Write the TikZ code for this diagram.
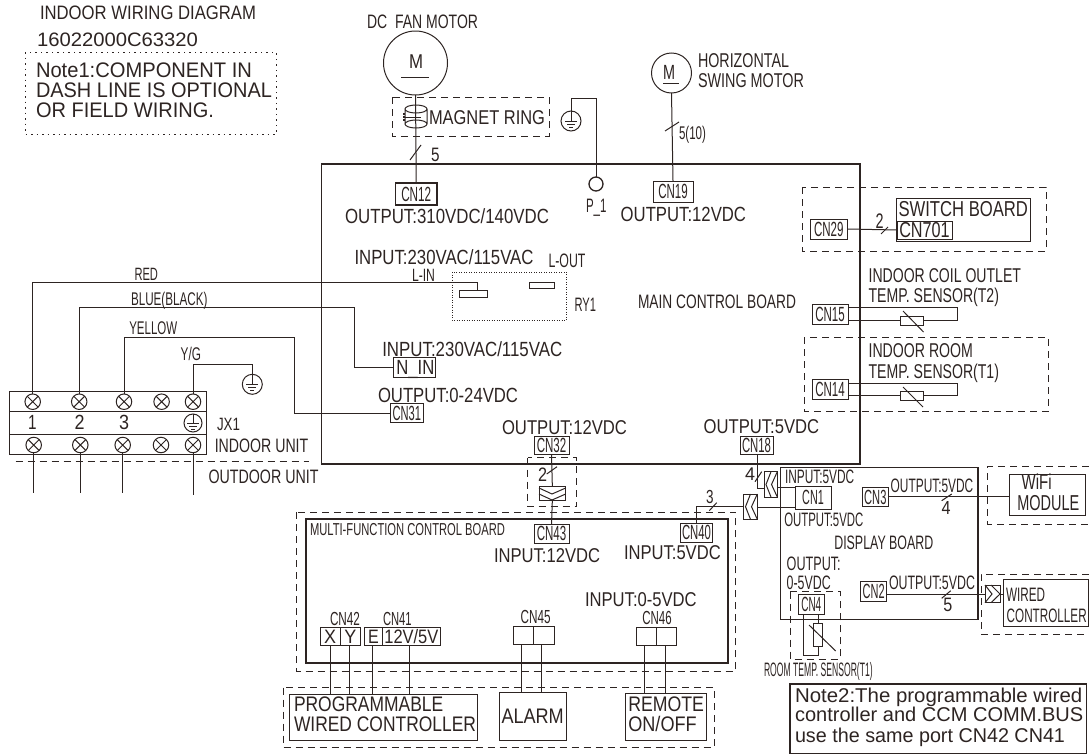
\documentclass[tikz,border=0pt]{standalone}
\usepackage{fontspec}
\usepackage{graphicx}
\setmainfont{Liberation Sans}
\definecolor{ink}{RGB}{45,36,34}
\newcommand\fitt[3]{{\pgfmathsetmacro\fsz{#1*1.08}\fontsize{\fsz}{\fsz}\selectfont\resizebox{#2pt}{\height}{#3}}}
\newcommand\lbl[6]{\node[txt] (#1) at (#2,#3) {\fitt{#4}{#5}{#6}};}
\newcommand\bx[7][]{\node[box,#1,minimum width={(#5-#3)*1pt},minimum height={(#6-#4)*1pt}] (#2) at ({(#3+#5)/2},{(#4+#6)/2}) {#7};}
\newcommand\screw[3]{\node[screwc] (#1) at (#2,#3) {}; \draw[wire] (#1.45)--(#1.225) (#1.135)--(#1.315);}
\newcommand\gnd[4]{\node[gndc,minimum size=#4pt] (#1) at (#2,#3) {};
  \draw[wire] (#1.north)--(#1.center) ++(-6,0) -- ++(12,0) ++(-10,3) -- ++(8,0) ++(-6,3) -- ++(4,0);}
\newcommand\wv[3]{\draw[wire] (#1,0 |- #2) -- (#1,0 |- #3);}
\tikzset{
  txt/.style={anchor=base west,inner sep=0pt,outer sep=0pt,text=ink},
  box/.style={draw=ink,line width=1pt,inner sep=0pt,outer sep=0pt,text=ink,rectangle},
  thickbox/.style={line width=1.4pt},
  wire/.style={draw=ink,line width=1pt},
  dash box/.style={draw=ink,line width=1pt,dash pattern=on 7pt off 5pt},
  screwc/.style={circle,draw=ink,line width=1pt,minimum size=15.5pt,inner sep=0pt,outer sep=0pt},
  gndc/.style={circle,draw=ink,line width=1pt,inner sep=0pt,outer sep=0pt},
}
\begin{document}
\begin{tikzpicture}[x=1pt,y=-1pt]
\useasboundingbox (0,0) rectangle (1089,755);
% ---- header
\lbl{title}{40}{19}{18}{216}{INDOOR WIRING DIAGRAM}
\lbl{partno}{37}{46}{18}{161}{16022000C63320}
\draw[draw=ink,line width=1pt,dash pattern=on 1.5pt off 4pt] (25,52) rectangle (276,134);
\lbl{noteA}{36}{77}{19.5}{216}{Note1:COMPONENT IN}
\lbl{noteB}{36}{97}{19.5}{236}{DASH LINE IS OPTIONAL}
\lbl{noteC}{36}{117}{19.5}{178}{OR FIELD WIRING.}
% ---- fan motor
\lbl{fanlbl}{367}{28}{18}{111}{DC\ \ FAN MOTOR}
\node[circle,draw=ink,line width=1pt,minimum size=64pt,inner sep=0pt,outer sep=0pt] (fan) at (415.5,63) {};
\lbl{fanM}{409}{68}{18.5}{14}{M}
\draw[wire] (401,77) -- (428.5,77);
\draw[dash box] (392,97) rectangle (549,136);
\lbl{ringlbl}{429}{124}{18.5}{116}{MAGNET RING}
\draw[wire] (416,109) ellipse (11 and 4) (416,124) ellipse (11 and 4)
  (405,109) -- (405,124) (427,109) -- (427,124);
\draw[wire,dash pattern=on 1.5pt off 1.5pt,line width=1.4pt] (404,113) -- (404,121);
\draw[wire] (404,117) -- (421,117);
\bx[thickbox]{cn12}{395.5}{183}{437}{205}{\fitt{19}{30}{CN12}}
\draw[wire] (fan.south) -- (cn12.north);
\draw[wire] (410,160) -- (421,145);
\lbl{n5a}{431}{161}{18}{8.5}{5}
% ---- main board
\bx[line width=1.3pt]{main}{321.5}{164}{860}{464}{}
\lbl{out310}{345}{223}{19}{204}{OUTPUT:310VDC/140VDC}
\lbl{in230a}{354.5}{264}{19}{179}{INPUT:230VAC/115VAC}
\lbl{lin}{412}{281}{16.5}{23}{L-IN}
\lbl{lout}{548.5}{267}{18}{37}{L-OUT}
\draw[draw=ink,line width=1pt,dash pattern=on 1pt off 1.5pt] (452,272) rectangle (566.5,320);
\bx{ctA}{459.5}{290.7}{487.7}{297.7}{}
\bx{ctB}{529}{282}{554.5}{288}{}
\lbl{ry}{574.5}{311}{18}{21.5}{RY1}
\lbl{mcb}{638}{308}{18}{158}{MAIN CONTROL BOARD}
\lbl{in230b}{382.3}{356}{19}{180}{INPUT:230VAC/115VAC}
\bx{nin}{393.5}{357.7}{435.5}{377.3}{}
\lbl{nint}{396.3}{374.5}{19}{38}{N\_IN}
\lbl{out24}{378}{402.7}{19}{140}{OUTPUT:0-24VDC}
\bx{cn31}{390.3}{403.3}{423.3}{422.7}{\fitt{19}{28.5}{CN31}}
\lbl{out12b}{502}{434}{18.5}{125}{OUTPUT:12VDC}
\bx{cn32}{534}{436}{569}{454}{\fitt{19}{29.5}{CN32}}
\lbl{out5a}{703.7}{433}{18.5}{115.5}{OUTPUT:5VDC}
\bx{cn18}{740}{436.7}{773}{454}{\fitt{19}{29}{CN18}}
% ---- swing motor
\node[circle,draw=ink,line width=1pt,minimum size=40pt,inner sep=0pt,outer sep=0pt] (swing) at (671.5,73) {};
\lbl{swM}{663}{79}{19}{12}{M}
\draw[wire] (663,83) -- (679,83);
\lbl{swA}{698}{67}{18.5}{91}{HORIZONTAL}
\lbl{swB}{698}{87}{18.5}{106}{SWING MOTOR}
\bx{cn19}{653}{181}{693}{202}{\fitt{19}{29.5}{CN19}}
\draw[wire] (swing.south) -- (cn19.north);
\draw[wire] (665,131) -- (679,122);
\lbl{n510}{679}{139}{17}{27}{5(10)}
\lbl{out12a}{620.7}{221}{19}{125.3}{OUTPUT:12VDC}
% ---- ground + P_1
\gnd{gndA}{571}{121}{20}
\node[circle,draw=ink,line width=1.3pt,minimum size=14pt,inner sep=0pt,outer sep=0pt] (p1) at (596,184) {};
\lbl{p1t}{586}{212}{18}{20.5}{P\_1}
\draw[wire] (gndA.north) -- (571,98) -- (596,98) -- (p1.north);
% ---- switch board
\draw[dash box] (802,187) rectangle (1046,251);
\bx{cn29}{810.6}{219}{847}{239}{\fitt{19}{29.5}{CN29}}
\bx{sw}{896}{198}{1030}{241}{}
\lbl{swt}{898.5}{216}{20}{129.5}{SWITCH BOARD}
\bx{cn701}{897}{221}{952}{239}{\fitt{20}{50.5}{CN701}}
\draw[wire] (cn29.east) -- (cn701.west);
\lbl{n2a}{875.5}{228}{19.5}{8}{2}
\draw[wire] (881,234) -- (888,227);
% ---- T2 sensor
\lbl{coilA}{868.6}{282}{18.5}{152.4}{INDOOR COIL OUTLET}
\lbl{coilB}{868.6}{302}{18.5}{130.4}{TEMP. SENSOR(T2)}
\bx{cn15}{812}{304}{848}{324}{\fitt{19}{29.5}{CN15}}
\bx{rT2}{900}{316}{923.5}{325}{}
\draw[wire] (cn15.east |- 0,307) -- (957,307) -- (957,320.5) -- (rT2.east);
\draw[wire] (cn15.east |- rT2.west) -- (rT2.west);
\draw[wire] (903,311) -- (923.5,332);
% ---- T1 sensor
\draw[dash box] (804,337) rectangle (1048.5,411);
\lbl{roomA}{868.6}{357}{18.5}{104.4}{INDOOR ROOM}
\lbl{roomB}{868.6}{378}{18.5}{130.4}{TEMP. SENSOR(T1)}
\bx{cn14}{812}{379}{848}{399}{\fitt{19}{29.5}{CN14}}
\bx{rT1}{900}{391}{923.5}{400}{}
\draw[wire] (cn14.east |- 0,383) -- (957,383) -- (957,395.5) -- (rT1.east);
\draw[wire] (cn14.east |- rT1.west) -- (rT1.west);
\draw[wire] (903,387) -- (923,407);
% ---- terminal block
\draw[wire] (9.4,391) rectangle (206,454.3) (9.4,411.7) -- (206,411.7) (9.4,434) -- (206,434);
\screw{sA}{32.7}{401.7}\screw{sB}{79.2}{401.7}\screw{sC}{124}{401.7}\screw{sD}{161.6}{401.7}\screw{sE}{193}{401.7}
\screw{bA}{33.7}{445}\screw{bB}{80.3}{445}\screw{bC}{122.7}{445}\screw{bD}{161}{445}\screw{bE}{193}{445}
\lbl{tA}{28}{429}{19}{8.5}{1}
\lbl{tB}{74.5}{429}{19}{10}{2}
\lbl{tC}{119}{429}{19}{10}{3}
\gnd{gndB}{193}{423}{18}
\lbl{jx}{217}{430}{16.5}{23}{JX1}
\lbl{indoor}{214.8}{452.7}{18}{93.5}{INDOOR UNIT}
\draw[dash box] (15.6,461.7) -- (308.7,461.7);
\lbl{outdoor}{208.5}{483.3}{18}{110}{OUTDOOR UNIT}
\coordinate (eA) at (33.7,493.3); \coordinate (eB) at (80.3,493.3); \coordinate (eC) at (122.7,493.3); \coordinate (eE) at (193,495);
\draw[wire] (bA.south) -- (eA) (bB.south) -- (eB) (bC.south) -- (eC) (bE.south) -- (eE);
\lbl{red}{134.5}{280}{16.5}{23.5}{RED}
\draw[wire] (sA.north) -- (32.7,282.3) -- (477,282.3) -- (477,0 |- ctA.north);
\lbl{blue}{131}{305.7}{17}{76.5}{BLUE(BLACK)}
\draw[wire] (sB.north) -- (79.2,307.3) -- (354,307.3) -- (354,0 |- nin.west) -- (nin.west);
\lbl{yel}{129.3}{334}{17}{48}{YELLOW}
\draw[wire] (sC.north) -- (124,337.7) -- (294,337.7) -- (294,0 |- cn31.west) -- (cn31.west);
\lbl{yg}{180.7}{360}{17}{20.3}{Y/G}
\gnd{gndC}{252.3}{384.3}{20}
\draw[wire] (sE.north) -- (193,364.3) -- (252.3,364.3) -- (gndC.north);
% ---- CN32 link
\draw[dash box] (527.7,457.7) rectangle (576.7,506.7);
\lbl{n2b}{538}{481}{18}{9}{2}
\draw[wire] (546.7,474) -- (557,466.7);
\bx{cMid}{539}{486.7}{565.7}{500}{}
\draw[wire] (539,488) -- (552,494) -- (565.7,488) (539,494) -- (552,500) -- (565.7,494);
\bx{cn43}{534}{524.7}{569}{543}{\fitt{19}{29.5}{CN43}}
\draw[wire] (cn32.south) -- (cMid.north);
\draw[wire] (cMid.south) -- (cn43.north);
\lbl{in12}{494}{562.3}{18.5}{106}{INPUT:12VDC}
% ---- display links
\bx{cK}{764}{471.7}{777.3}{497}{}
\draw[wire] (771,471.7) -- (766,484.5) -- (771,497) (777.3,471.7) -- (771.5,484.5) -- (777.3,497);
\bx{cL}{743.3}{494}{757.3}{519.3}{}
\draw[wire] (750.5,494) -- (745.5,506.7) -- (750.5,519.3) (757.3,494) -- (751.5,506.7) -- (757.3,519.3);
\lbl{n4a}{745}{480}{17}{10}{4}
\draw[wire] (755,481.7) -- (761.7,471.7);
\draw[wire] (757.5,454) -- (757.5,488) -- (764,488);
\bx{cn40}{680.7}{523.7}{712.3}{542}{\fitt{19}{29}{CN40}}
\draw[wire] (696,0 |- cn40.north) -- (696,506.7) -- (743.3,506.7);
\lbl{n3}{706}{503.3}{17.5}{7.5}{3}
\draw[wire] (709.3,510.7) -- (716.7,502.7);
\lbl{in5}{624}{559}{18.5}{96.7}{INPUT:5VDC}
% ---- multi-function board
\draw[dash box] (296.7,512.3) rectangle (735.7,671.3);
\bx[line width=2pt]{multi}{306}{518.7}{727.7}{663.3}{}
\lbl{mtitle}{310}{535}{16}{195}{MULTI-FUNCTION CONTROL BOARD}
\lbl{l42}{330}{625}{17.5}{30}{CN42}
\lbl{l41}{383}{625}{17.5}{28.7}{CN41}
\bx{xb}{320}{627.7}{340}{645.7}{\fitt{18}{12}{X}}
\bx{yb}{340}{627.7}{360.7}{645.7}{\fitt{18}{12}{Y}}
\bx{eb}{364}{627.7}{382.7}{645.7}{\fitt{18}{10.7}{E}}
\bx{vb}{382.7}{627.7}{440}{645.7}{\fitt{18}{54}{12V/5V}}
\lbl{l45}{520.7}{623.3}{17.5}{30}{CN45}
\bx{aa}{513.3}{626.3}{533.7}{644.3}{}
\bx{ab}{533.7}{626.3}{554.3}{644.3}{}
\lbl{l46}{642.3}{624.3}{17.5}{29.4}{CN46}
\bx{ra}{636}{627.7}{656.7}{645.7}{}
\bx{rb}{656.7}{627.7}{676.7}{645.7}{}
\lbl{in05}{585}{606}{18.5}{111.7}{INPUT:0-5VDC}
% ---- lower boxes
\draw[dash box] (283.3,687.7) rectangle (714.3,747.3);
\bx{prog}{289.3}{694}{477.7}{740}{}
\lbl{progA}{294}{711.7}{19.5}{149.3}{PROGRAMMABLE}
\lbl{progB}{294}{731.7}{19.5}{182}{WIRED CONTROLLER}
\bx{alarm}{499.3}{692.7}{566}{740}{\fitt{19.5}{62.3}{ALARM}}
\bx{rem}{625}{693.3}{706.7}{740.7}{}
\lbl{remA}{628.3}{711.7}{19.5}{75.7}{REMOTE}
\lbl{remB}{628.3}{731.7}{19.5}{68.4}{ON/OFF}
\wv{330}{xb.south}{prog.north}
\wv{349.7}{yb.south}{prog.north}
\wv{372}{eb.south}{prog.north}
\wv{409.3}{vb.south}{prog.north}
\wv{521.7}{aa.south}{alarm.north}
\wv{541.7}{ab.south}{alarm.north}
\wv{644}{ra.south}{rem.north}
\wv{665}{rb.south}{rem.north}
% ---- display board
\bx[line width=1.3pt]{disp}{780.7}{467.7}{978}{619.3}{}
\lbl{dIn}{785}{483.3}{18}{69.3}{INPUT:5VDC}
\bx{cn1}{795}{486.7}{831}{509}{\fitt{19}{21.6}{CN1}}
\draw[wire] (cK.east |- 0,487.3) -- (cn1.west |- 0,487.3);
\draw[wire] (cL.east |- 0,507.3) -- (cn1.west |- 0,507.3);
\lbl{dOut}{784.3}{526.7}{18}{79}{OUTPUT:5VDC}
\bx{cn3}{862.3}{487.7}{888.3}{506.7}{\fitt{19}{22.3}{CN3}}
\lbl{d3}{890.7}{492.7}{18}{82.6}{OUTPUT:5VDC}
\lbl{dtitle}{834.3}{549.3}{18}{99}{DISPLAY BOARD}
\lbl{d0a}{786.7}{570.7}{18}{54}{OUTPUT:}
\lbl{d0b}{786.7}{589}{18}{44}{0-5VDC}
\bx{cn2}{860.7}{581.7}{886.7}{601}{\fitt{19}{22}{CN2}}
\lbl{d2}{889}{589.3}{18}{86}{OUTPUT:5VDC}
\bx{cn4}{798.3}{594.3}{824.3}{614}{\fitt{19}{20}{CN4}}
\draw[wire] (941.7,500.7) -- (951.7,494);
\lbl{n4b}{941.7}{514.3}{17.5}{9}{4}
\draw[wire] (941.7,598.3) -- (950.7,590.7);
\lbl{n5b}{943.3}{611.7}{18}{9}{5}
% ---- WiFi
\draw[dash box] (1089,466.7) -- (987.7,466.7) -- (987.7,524) -- (1089,524);
\bx{wifi}{1009.3}{474}{1085}{515}{}
\lbl{wifiA}{1021.7}{489.3}{20}{30}{WiFi}
\lbl{wifiB}{1017.3}{510}{20}{62}{MODULE}
\draw[wire] (cn3.east |- 0,496.7) -- (wifi.west |- 0,496.7);
% ---- wired controller
\draw[dash box] (1089,574) -- (981,574) -- (981,634) -- (1089,634);
\bx{wcon}{1003.3}{579.3}{1088.3}{626.7}{}
\lbl{wconA}{1006}{601.7}{18}{39}{WIRED}
\lbl{wconB}{1006.7}{622.7}{18}{80}{CONTROLLER}
\bx{cW}{985}{585}{1000}{602.7}{}
\draw[wire] (985,585) -- (992,594) -- (985,602.7) (991,585) -- (1000,594) -- (991,602.7);
\draw[wire] (cn2.east |- 0,594) -- (cW.west |- 0,594);
\draw[wire] (cW.east |- 0,594) -- (wcon.west |- 0,594);
% ---- room sensor
\draw[dash box] (790,591.7) rectangle (840,659);
\bx{rR}{813.3}{623.3}{822.7}{646}{}
\draw[wire] (803.3,0 |- cn4.south) -- (803.3,655.7) -- (818,655.7) -- (rR.south);
\draw[wire] (rR.north) -- (rR.north |- cn4.south);
\draw[wire] (809,625) -- (835.7,651);
\lbl{rlbl}{764}{676.7}{18}{108.7}{ROOM TEMP. SENSOR(T1)}
% ---- note 2
\bx[line width=1.3pt]{note}{790}{684}{1086.7}{753.3}{}
\lbl{nB}{795}{702.7}{18.5}{287.3}{Note2:The programmable wired}
\lbl{nC}{795}{721.7}{18.5}{288.3}{controller and CCM COMM.BUS}
\lbl{nD}{795}{742.7}{18.5}{270}{use the same port CN42 CN41}
\end{tikzpicture}
\end{document}
